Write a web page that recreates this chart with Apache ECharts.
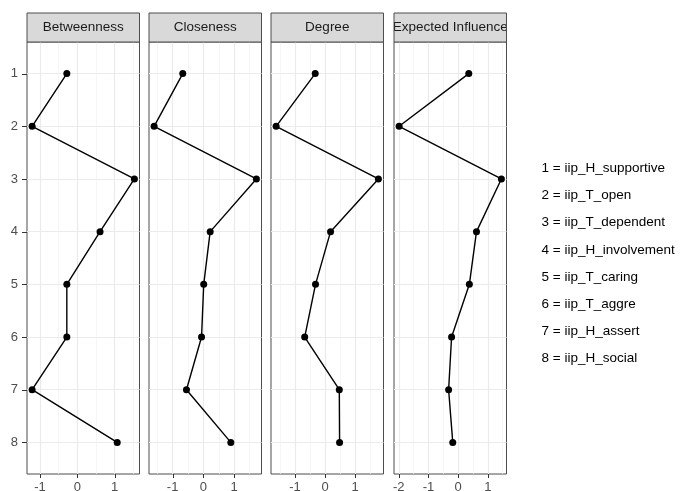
<!DOCTYPE html>
<html>
<head>
<meta charset="utf-8">
<script src="https://cdn.jsdelivr.net/npm/echarts@6/dist/echarts.min.js"></script>
<style>
html,body{margin:0;padding:0;background:#fff;}
#chart{width:680px;height:491px;}
</style>
</head>
<body>
<div id="chart"></div>
<script>
// ---- data ----
const nodes = [1, 2, 3, 4, 5, 6, 7, 8];
const nodeLabels = ['iip_H_supportive', 'iip_T_open', 'iip_T_dependent', 'iip_H_involvement',
  'iip_T_caring', 'iip_T_aggre', 'iip_H_assert', 'iip_H_social'];
const panelTitles = ['Betweenness', 'Closeness', 'Degree', 'Expected Influence'];
const betweenness = [-0.28, -1.21, 1.53, 0.61, -0.28, -0.28, -1.21, 1.07];
const closeness = [-0.67, -1.60, 1.72, 0.22, 0.01, -0.06, -0.55, 0.89];
const degree = [-0.33, -1.63, 1.77, 0.18, -0.32, -0.68, 0.47, 0.48];
const expectedInfluence = [0.36, -1.99, 1.46, 0.62, 0.38, -0.22, -0.32, -0.18];
const xTickLabels = [[-1, 0, 1], [-1, 0, 1], [-1, 0, 1], [-2, -1, 0, 1]];
const xMinorBreaks = [[-0.5, 0.5, 1.5], [-1.5, -0.5, 0.5, 1.5], [-1.5, -0.5, 0.5, 1.5], [-1.5, -0.5, 0.5, 1.5]];
const yTickLabels = [1, 2, 3, 4, 5, 6, 7, 8];

const seriesValues = [betweenness, closeness, degree, expectedInfluence];

// ---- layout ----
const FONT = 'Liberation Sans, Arial, Helvetica, sans-serif';
const panelLefts = [27, 149, 271, 394];
const panelW = 112.5;
const panelTop = 42;
const panelH = 432;
const stripTop = 13;
const stripH = 29;
const TICK_COLOR = '#333';

const grids = [], xAxes = [], yAxes = [], series = [], graphics = [];

seriesValues.forEach((vals, i) => {
  const dmin = Math.min(...vals), dmax = Math.max(...vals);
  const pad = (dmax - dmin) * 0.05;
  const xmin = dmin - pad, xmax = dmax + pad;
  grids.push({
    left: panelLefts[i], top: panelTop, width: panelW, height: panelH,
    containLabel: false, outerBoundsMode: 'none',
    show: true, backgroundColor: 'transparent', borderColor: '#4d4d4d', borderWidth: 1, z: 0
  });
  // x: labels + major grid lines
  xAxes.push({
    type: 'value', gridIndex: i, min: xmin, max: xmax, position: 'bottom',
    axisLine: { show: false, onZero: false },
    axisTick: { show: false, customValues: xTickLabels[i] },
    axisLabel: { show: true, customValues: xTickLabels[i], color: '#4D4D4D', fontSize: 13, fontFamily: FONT, margin: 7,
      formatter: v => String(v) },
    splitLine: { show: true, lineStyle: { color: '#EBEBEB', width: 1.2 } }
  });
  // x: minor grid lines only
  xAxes.push({
    type: 'value', gridIndex: i, min: xmin, max: xmax, position: 'bottom',
    axisLine: { show: false, onZero: false },
    axisTick: { show: false, customValues: xMinorBreaks[i] },
    axisLabel: { show: false },
    splitLine: { show: true, lineStyle: { color: '#F0F0F0', width: 0.7 } }
  });
  // y: labels + grid lines
  yAxes.push({
    type: 'value', gridIndex: i, inverse: true, min: 0.4, max: 8.6, position: 'left',
    axisLine: { show: false, onZero: false },
    axisTick: { show: false, customValues: yTickLabels },
    axisLabel: { show: i === 0, customValues: yTickLabels, color: '#4D4D4D', fontSize: 13, fontFamily: FONT, margin: 9 },
    splitLine: { show: true, lineStyle: { color: '#EBEBEB', width: 1.2 } }
  });
  series.push({
    type: 'line', xAxisIndex: 2 * i, yAxisIndex: i,
    data: vals.map((v, k) => [v, nodes[k]]),
    symbol: 'circle', symbolSize: 7, showSymbol: true,
    itemStyle: { color: '#000' },
    lineStyle: { color: '#000', width: 1.4 },
    emphasis: { disabled: true },
    animation: false, clip: false, z: 5
  });
});

const chart = echarts.init(document.getElementById('chart'), null, { renderer: 'canvas' });
chart.setOption({
  animation: false,
  backgroundColor: '#fff',
  grid: grids,
  xAxis: xAxes,
  yAxis: yAxes,
  series: series
});

// tick marks placed through the axes' own scales
const panelBottom = panelTop + panelH;
seriesValues.forEach((vals, i) => {
  xTickLabels[i].forEach(v => {
    const px = Math.round(chart.convertToPixel({ xAxisIndex: 2 * i }, v)) + 0.5;
    graphics.push({ type: 'line', z: 9, shape: { x1: px, y1: panelBottom, x2: px, y2: panelBottom + 4 },
      style: { stroke: TICK_COLOR, lineWidth: 1 } });
  });
});
yTickLabels.forEach(v => {
  const py = Math.round(chart.convertToPixel({ yAxisIndex: 0 }, v)) + 0.5;
  graphics.push({ type: 'line', z: 9, shape: { x1: panelLefts[0] - 5, y1: py, x2: panelLefts[0], y2: py },
    style: { stroke: TICK_COLOR, lineWidth: 1 } });
});

// strips
panelLefts.forEach((l, i) => {
  graphics.push({
    type: 'rect', z: 10, shape: { x: l, y: stripTop, width: panelW, height: stripH },
    style: { fill: '#D9D9D9', stroke: null }
  });
  graphics.push({
    type: 'text', z: 11, x: l + panelW / 2, y: stripTop + stripH / 2,
    style: { text: panelTitles[i], fill: '#1A1A1A', font: '13.5px ' + FONT, align: 'center', verticalAlign: 'middle' }
  });
  // white cover clipping overflowing strip text
  graphics.push({ type: 'rect', z: 12, shape: { x: l - 9, y: stripTop - 2, width: 9, height: stripH + 2 }, style: { fill: '#fff' } });
});
graphics.push({ type: 'rect', z: 12, shape: { x: panelLefts[3] + panelW, y: stripTop - 2, width: 20, height: stripH + 2 }, style: { fill: '#fff' } });
panelLefts.forEach((l) => {
  graphics.push({
    type: 'rect', z: 13, shape: { x: l, y: stripTop, width: panelW, height: stripH },
    style: { fill: null, stroke: '#4d4d4d', lineWidth: 1 }
  });
});

// legend-like key
const legendX = 541.5, legendY0 = 168.3, legendStep = 27.2;
nodes.forEach((n, k) => {
  graphics.push({
    type: 'text', z: 10, x: legendX, y: legendY0 + k * legendStep,
    style: { text: n + ' = ' + nodeLabels[k], fill: '#000', font: '13.5px ' + FONT, align: 'left', verticalAlign: 'middle' }
  });
});

chart.setOption({ graphic: { elements: graphics } });
</script>
</body>
</html>
